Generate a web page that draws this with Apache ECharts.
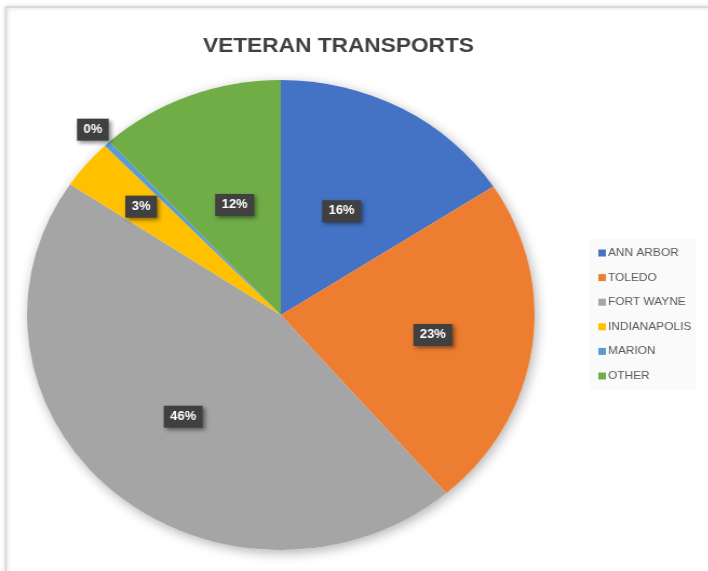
<!DOCTYPE html>
<html>
<head>
<meta charset="utf-8">
<script src="https://cdn.jsdelivr.net/npm/echarts@6/dist/echarts.min.js"></script>
<style>
  html, body { margin: 0; padding: 0; background: #fff; overflow: hidden; }
  /* the original picture is stretched sideways, so the pie is an ellipse */
  #chart { width: 656px; height: 571px; transform: scaleX(1.08); transform-origin: 0 0; }
</style>
</head>
<body>
<div id="chart"></div>
<script>
const categories = ["ANN ARBOR", "TOLEDO", "FORT WAYNE", "INDIANAPOLIS", "MARION", "OTHER"];
const shares = [15.8, 22.9, 45.7, 3.4, 0.4, 11.8];
const colors = ["#4472C4", "#ED7D31", "#A5A5A5", "#FFC000", "#5B9BD5", "#70AD47"];

// Excel's "best fit" labels sit at different depths; push each one out from the inside spot
const labelPush = [0.98, 1.18, 1.13, 1.4, 2.11, 0.98];

const CX = 260, CY = 315, R = 235;

const chart = echarts.init(document.getElementById("chart"));

const option = {
  animation: false,
  title: {
    text: "VETERAN TRANSPORTS",
    left: 183,
    top: 31,
    textStyle: {
      fontFamily: "Liberation Sans",
      fontSize: 21,
      fontWeight: "bold",
      color: "#404040",
    },
  },
  legend: {
    orient: "vertical",
    left: 546,
    top: 239,
    data: categories,
    icon: "rect",
    itemWidth: 7,
    itemHeight: 7,
    itemGap: 10.6,
    padding: [7, 4, 7, 8],
    backgroundColor: "#fafafa",
    textStyle: {
      fontFamily: "Liberation Sans",
      fontSize: 11,
      lineHeight: 14,
      color: "#595959",
      padding: [0, 0, 0, -3],
    },
  },
  graphic: [
    {
      type: "rect",
      shape: { x: 5.5, y: 7, width: 720, height: 620 },
      style: {
        fill: "none",
        stroke: "#d4d4d4",
        lineWidth: 1.5,
        shadowBlur: 4,
        shadowColor: "rgba(0,0,0,0.25)",
      },
      silent: true,
    },
  ],
  series: [
    {
      // soft shadow under the whole pie
      type: "pie",
      silent: true,
      center: [CX, CY],
      radius: R,
      z: 1,
      label: { show: false },
      labelLine: { show: false },
      itemStyle: {
        color: "#ffffff",
        shadowBlur: 12,
        shadowOffsetX: 2,
        shadowOffsetY: 3,
        shadowColor: "rgba(0,0,0,0.3)",
      },
      data: [{ value: 1, name: "" }],
    },
    {
      name: "Veteran Transports",
      type: "pie",
      center: [CX, CY],
      radius: R,
      startAngle: 90,
      z: 2,
      data: categories.map((name, i) => ({
        name: name,
        value: shares[i],
        itemStyle: { color: colors[i] },
      })),
      label: {
        show: true,
        position: "inside",
        formatter: (p) => Math.round(p.percent) + "%",
        fontFamily: "Liberation Sans",
        fontSize: 12,
        fontWeight: "bold",
        color: "#ffffff",
        backgroundColor: "#404040",
        padding: [5, 6],
        shadowBlur: 4,
        shadowOffsetX: 2,
        shadowOffsetY: 2,
        shadowColor: "rgba(0,0,0,0.45)",
      },
      labelLine: { show: false },
      labelLayout: function (params) {
        const r = params.labelRect;
        const k = labelPush[params.dataIndex] - 1;
        return {
          dx: (r.x + r.width / 2 - CX) * k,
          dy: (r.y + r.height / 2 - CY) * k,
        };
      },
    },
  ],
};

chart.setOption(option);
</script>
</body>
</html>
